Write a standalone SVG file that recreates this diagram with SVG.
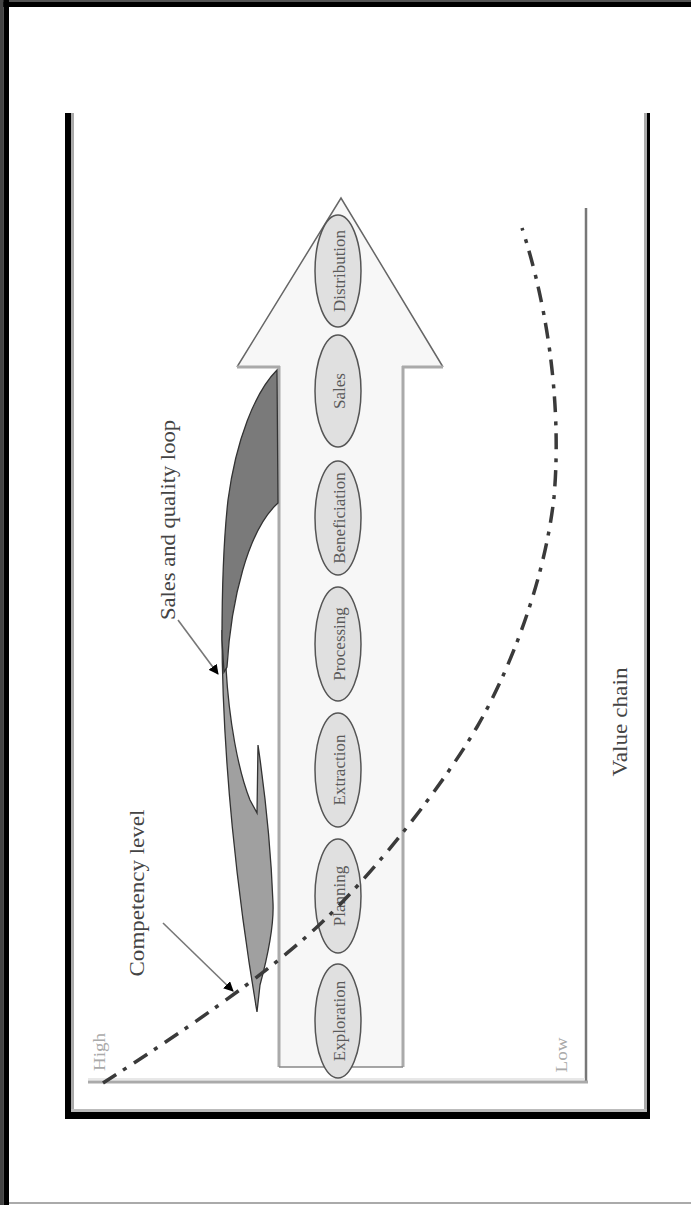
<svg xmlns="http://www.w3.org/2000/svg" width="691" height="1205" viewBox="0 0 691 1205">
<style>
.lbl{font-family:"Liberation Serif","Times New Roman",serif;text-anchor:middle;dominant-baseline:central}
.big{font-size:22px;fill:#444}
.ell{fill:#e0e0e0;stroke:#555;stroke-width:1.5}
.elt{font-size:17px;fill:#5a5a5a}
.faint{font-size:17px;fill:#aaa}
.leader{stroke:#777;stroke-width:1.6;fill:none}
</style>
<defs>
<marker id="ah" viewBox="0 0 10 10" refX="9" refY="5" markerWidth="10" markerHeight="10" markerUnits="userSpaceOnUse" orient="auto">
<path d="M0,0 L10,5 L0,10 Z" fill="#000"/>
</marker>
</defs>
<rect width="691" height="1205" fill="#fff"/>
<g id="outer-frame">
<rect x="0" y="0" width="691" height="2" fill="#555"/>
<rect x="0" y="2" width="691" height="5" fill="#000"/>
<rect x="0" y="0" width="3.5" height="1205" fill="#444"/>
<rect x="3.5" y="0" width="5.5" height="1205" fill="#000"/>
<rect x="9" y="1202" width="682" height="2" fill="#aaa"/>
</g>
<g id="inner-frame">
<rect x="65" y="113" width="6" height="1006" fill="#000"/>
<rect x="71" y="113" width="3" height="996" fill="#aaa"/>
<rect x="647" y="113" width="3" height="1006" fill="#000"/>
<rect x="644" y="113" width="3" height="996" fill="#aaa"/>
<rect x="65" y="1112" width="585" height="7" fill="#000"/>
<rect x="71" y="1109" width="576" height="3" fill="#bbb"/>
</g>
<g id="axes">
<line x1="586" y1="208" x2="586" y2="1083" stroke="#777" stroke-width="2.5"/>
<line x1="88" y1="1079" x2="585" y2="1079" stroke="#e8e8e8" stroke-width="2"/>
<line x1="88" y1="1082" x2="588" y2="1082" stroke="#aaa" stroke-width="3"/>
<text class="lbl faint" transform="translate(99,1052) rotate(-90)" textLength="38" lengthAdjust="spacingAndGlyphs">High</text>
<text class="lbl faint" transform="translate(561,1055) rotate(-90)" textLength="35" lengthAdjust="spacingAndGlyphs">Low</text>
<text class="lbl big" transform="translate(619,722) rotate(-90)" textLength="109" lengthAdjust="spacingAndGlyphs" fill="#555">Value chain</text>
</g>
<g id="value-arrow">
<polygon points="341,198 443,367 403,367 403,1067 279,1067 279,367 237,367" fill="#f7f7f7"/>
<polyline points="237,367 341,198 443,367" fill="none" stroke="#666" stroke-width="1.5"/>
<line x1="237" y1="367" x2="280" y2="367" stroke="#aaa" stroke-width="3"/>
<line x1="402" y1="367" x2="443" y2="367" stroke="#aaa" stroke-width="3"/>
<line x1="279" y1="366" x2="279" y2="1067" stroke="#aaa" stroke-width="3"/>
<line x1="403" y1="366" x2="403" y2="1067" stroke="#aaa" stroke-width="3"/>
<line x1="279" y1="1067" x2="403" y2="1067" stroke="#888" stroke-width="1.5"/>
</g>
<g id="loop-shape">
<path d="M222,630 C222,760 238,900 257,1012 L260,985 C268,955 274,925 273,903 C271,850 266,800 258,745 L257,813 L250,800 C238,770 229,720 226,668 Z" fill="#a0a0a0" stroke="#333" stroke-width="1.3"/>
<path d="M277,370 C255,392 236,440 228,500 C223,545 222,600 222,640 L224,672 L227,667 C231,600 248,530 278,503 Z" fill="#7a7a7a" stroke="#333" stroke-width="1.3"/>
</g>
<g id="stage-distribution"><ellipse class="ell" cx="338" cy="271" rx="23" ry="56"/><text class="lbl elt" transform="translate(339,271) rotate(-90)">Distribution</text></g>
<g id="stage-sales"><ellipse class="ell" cx="338" cy="391" rx="23" ry="56"/><text class="lbl elt" transform="translate(339,391) rotate(-90)">Sales</text></g>
<g id="stage-beneficiation"><ellipse class="ell" cx="338" cy="518" rx="23" ry="57"/><text class="lbl elt" transform="translate(339,518) rotate(-90)">Beneficiation</text></g>
<g id="stage-processing"><ellipse class="ell" cx="338" cy="644" rx="23" ry="57"/><text class="lbl elt" transform="translate(339,644) rotate(-90)">Processing</text></g>
<g id="stage-extraction"><ellipse class="ell" cx="338" cy="770" rx="23" ry="57"/><text class="lbl elt" transform="translate(339,770) rotate(-90)">Extraction</text></g>
<g id="stage-planning"><ellipse class="ell" cx="338" cy="896" rx="23" ry="57"/><text class="lbl elt" transform="translate(339,896) rotate(-90)">Planning</text></g>
<g id="stage-exploration"><ellipse class="ell" cx="338" cy="1021" rx="23" ry="57"/><text class="lbl elt" transform="translate(339,1021) rotate(-90)">Exploration</text></g>
<g id="competency-curve">
<path d="M103,1083 C170,1040 260,980 317,927 C370,878 440,790 477,727 C510,670 545,580 554,497 C560,430 555,330 522,228" fill="none" stroke="#3a3a3a" stroke-width="3.5" stroke-dasharray="16 8 4 9"/>
</g>
<g id="label-sales-loop">
<text class="lbl big" transform="translate(167,520) rotate(-90)" textLength="200" lengthAdjust="spacingAndGlyphs">Sales and quality loop</text>
</g>
<g id="label-competency">
<text class="lbl big" transform="translate(136,893) rotate(-90)" textLength="167" lengthAdjust="spacingAndGlyphs">Competency level</text>
</g>
<g id="connectors">
<line class="leader" x1="178" y1="620" x2="218" y2="674" marker-end="url(#ah)"/>
<line class="leader" x1="163" y1="923" x2="233" y2="991" marker-end="url(#ah)"/>
</g>
</svg>
